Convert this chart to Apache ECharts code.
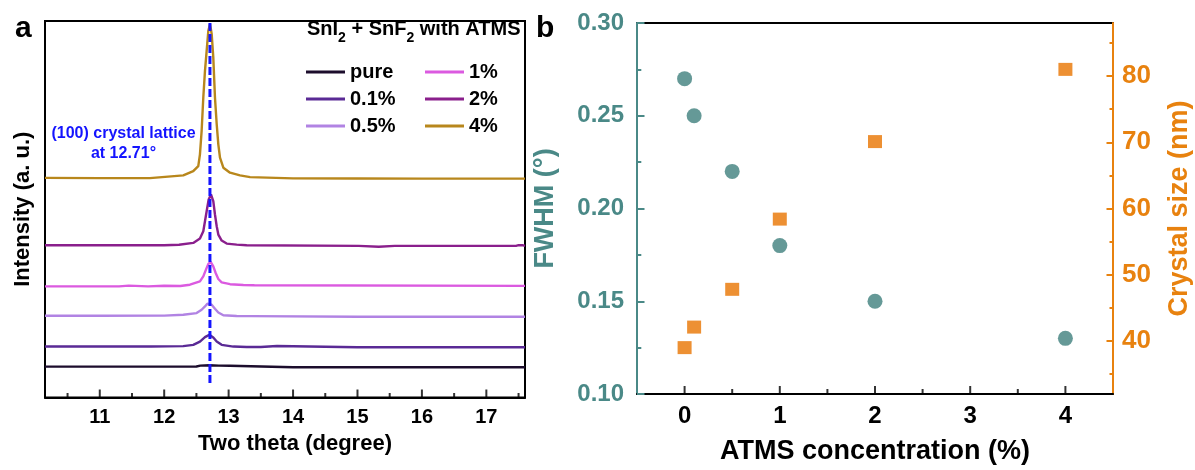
<!DOCTYPE html>
<html>
<head>
<meta charset="utf-8">
<script src="https://cdn.jsdelivr.net/npm/echarts@6/dist/echarts.min.js"></script>
<style>
  html, body { margin: 0; padding: 0; background: #fff; }
  #chart { width: 1195px; height: 470px; }
</style>
</head>
<body>
<div id="chart"></div>
<script>
// ---------- (a) XRD patterns: [two theta (deg), intensity (a. u., offset per sample)] ----------
const xrdPure = [
  [10.15, 30.8], [11.0, 30.8], [12.0, 30.8], [12.5, 30.9], [12.56, 31.8], [12.7, 32.1],
  [12.85, 31.8], [13.02, 31.7], [13.05, 30.3], [14.0, 30.2], [15.0, 30.2], [16.0, 30.1],
  [17.0, 30.1], [17.6, 30.1]
];
const xrd01 = [
  [10.15, 50.8], [11.0, 50.9], [11.8, 50.8], [12.296, 51.2], [12.451, 52.5], [12.555, 55.8],
  [12.633, 60.2], [12.70, 62.5], [12.762, 59.8], [12.815, 55.8], [12.892, 52.5], [13.073, 50.8],
  [13.28, 50.4], [13.5, 50.4], [13.52, 51.3], [13.75, 51.3], [13.78, 50.2], [15.0, 50.1],
  [16.0, 50.1], [17.6, 50.1]
];
const xrd05 = [
  [10.15, 81.6], [11.0, 81.6], [12.0, 81.7], [12.296, 82.5], [12.503, 84.2], [12.581, 87.5],
  [12.633, 90.8], [12.669, 93.5], [12.70, 94.5], [12.737, 92.5], [12.788, 88.5], [12.84, 84.8],
  [12.918, 82.0], [13.125, 81.3], [13.35, 81.2], [13.37, 80.6], [15.0, 80.6], [17.6, 80.6]
];
const xrd1 = [
  [10.15, 110.8], [11.3, 110.8], [11.33, 111.6], [11.45, 111.6], [11.47, 110.8], [11.75, 110.8],
  [11.77, 111.4], [12.0, 111.4], [12.25, 111.2], [12.399, 112.5], [12.555, 115.8], [12.607, 120.8],
  [12.648, 127.5], [12.685, 133.2], [12.721, 135.2], [12.762, 130.8], [12.799, 124.2], [12.84, 118.2],
  [12.892, 114.8], [13.022, 113.0], [13.229, 112.2], [13.4, 112.0], [13.42, 111.3], [17.6, 111.3]
];
const xrd2 = [
  [10.15, 151.8], [11.0, 151.8], [12.0, 151.8], [12.23, 152.3], [12.451, 154.2], [12.555, 158.5],
  [12.607, 165.8], [12.633, 175.8], [12.659, 185.8], [12.69, 197.5], [12.726, 202.5], [12.762, 195.8],
  [12.788, 182.5], [12.815, 170.8], [12.84, 162.5], [12.892, 156.5], [12.97, 153.5], [13.125, 152.5],
  [13.28, 151.8], [13.3, 151.2], [15.02, 151.2], [15.04, 150.4], [15.33, 150.4], [15.35, 151.2],
  [15.58, 151.2], [15.6, 151.8], [15.62, 151.2], [17.46, 151.2], [17.5, 151.9], [17.56, 151.9],
  [17.6, 151.2]
];
const xrd4 = [
  [10.15, 219.0], [11.0, 218.8], [11.778, 218.8], [12.296, 221.5], [12.451, 225.8], [12.529, 230.8],
  [12.555, 242.5], [12.581, 265.8], [12.607, 299.2], [12.633, 325.8], [12.659, 345.8], [12.685, 365.8],
  [12.711, 372.5], [12.737, 362.5], [12.762, 339.2], [12.788, 299.2], [12.815, 272.5], [12.84, 252.5],
  [12.866, 239.2], [12.918, 229.2], [13.022, 224.2], [13.177, 221.5], [13.333, 219.8], [14.0, 218.5],
  [15.0, 218.4], [16.0, 218.3], [17.6, 218.3]
];
const xrdNames = ['pure', '0.1%', '0.5%', '1%', '2%', '4%'];
const xrdData = [xrdPure, xrd01, xrd05, xrd1, xrd2, xrd4];
const peakPosition = 12.71;          // (100) reflection
const peakLineRange = [14.5, 375.5]; // vertical extent of the guide line
const twoThetaRange = [10.15, 17.6];
const intensityRange = [0, 375.5];
const twoThetaTicks = [11, 12, 13, 14, 15, 16, 17];
const twoThetaMinor = [10.5, 11.5, 12.5, 13.5, 14.5, 15.5, 16.5, 17.5];

// ---------- (b) FWHM and crystal size vs ATMS content ----------
const concentration = [0, 0.1, 0.5, 1, 2, 4];
const fwhm = [0.27, 0.25, 0.22, 0.18, 0.15, 0.13];
const crystalSize = [39.0, 42.1, 47.8, 58.4, 70.1, 81.0];
const concRange = [-0.5, 4.5];
const concTicks = [0, 1, 2, 3, 4];
const concMinor = [0.5, 1.5, 2.5, 3.5];
const fwhmRange = [0.10, 0.30];
const fwhmTicks = [0.10, 0.15, 0.20, 0.25, 0.30];
const fwhmMinor = [0.125, 0.175, 0.225, 0.275];
const sizeRange = [32, 88];
const sizeTicks = [40, 50, 60, 70, 80];
const sizeMinor = [35, 45, 55, 65, 75, 85];

// ---------- styling ----------
const FONT = '"Liberation Sans", Arial, Helvetica, sans-serif';
const curveColors = ['#1c0d2c', '#5a2a95', '#b183e3', '#db5ae0', '#8a1f8c', '#b8871c'];
const TEAL = '#3f7f7d';
const TEAL_TXT = '#4a8987';
const ORANGE = '#e87400';
const ORANGE_TXT = '#e8820f';
const BLUE = '#1414ff';

const chart = echarts.init(document.getElementById('chart'), null, { renderer: 'canvas' });

const boldText = (size, color) => ({
  fontFamily: FONT, fontWeight: 'bold', fontSize: size, color: color || '#000'
});

// axis line drawn by the grid frame / coloured axis; these axes only add tick marks
const tickOnly = (lineColor) => ({
  axisLine: { show: false, onZero: false, lineStyle: { color: lineColor } },
  axisLabel: { show: false },
  splitLine: { show: false }
});

// inward tick marks along a bottom axis, placed through the axis scales
const bottomTicks = (values, xIdx, yIdx, yBase, len) => ({
  type: 'scatter',
  xAxisIndex: xIdx, yAxisIndex: yIdx,
  data: values.map(v => [v, yBase]),
  symbol: 'rect',
  symbolSize: [2, len],
  symbolOffset: [0, -len / 2],
  itemStyle: { color: '#000' },
  silent: true,
  clip: false,
  z: 3
});

const legendBase = {
  orient: 'vertical',
  icon: 'rect',
  itemWidth: 39,
  itemHeight: 3,
  itemGap: 7,
  selectedMode: false,
  padding: 0,
  textStyle: Object.assign(boldText(20), { lineHeight: 20 })
};

const option = {
  animation: false,
  backgroundColor: '#fff',
  grid: [
    { left: 45, right: 670, top: 21, bottom: 72.5, show: true, borderColor: '#000', borderWidth: 2 },
    { left: 637, right: 82, top: 23, bottom: 72, show: true, borderColor: '#000', borderWidth: 2 }
  ],
  legend: [
    Object.assign({}, legendBase, { data: xrdNames.slice(0, 3), left: 306, top: 62 }),
    Object.assign({}, legendBase, { data: xrdNames.slice(3), left: 425, top: 62 })
  ],
  xAxis: [
    {
      gridIndex: 0, type: 'value', position: 'bottom',
      min: twoThetaRange[0], max: twoThetaRange[1],
      axisLine: { show: true, onZero: false, lineStyle: { color: '#000', width: 2 } },
      axisTick: { show: false },
      axisLabel: Object.assign(boldText(20), { customValues: twoThetaTicks, margin: 10 }),
      splitLine: { show: false },
      name: 'Two theta (degree)', nameLocation: 'middle', nameGap: 35,
      nameTextStyle: Object.assign(boldText(22), { padding: [0, 0, 0, 20] })
    },
    {
      gridIndex: 1, type: 'value', position: 'bottom',
      min: concRange[0], max: concRange[1],
      axisLine: { show: true, onZero: false, lineStyle: { color: '#000', width: 2 } },
      axisTick: { show: false },
      axisLabel: Object.assign(boldText(24), { customValues: concTicks, margin: 10 }),
      splitLine: { show: false },
      name: 'ATMS concentration (%)', nameLocation: 'middle', nameGap: 44,
      nameTextStyle: boldText(27)
    }
  ],
  yAxis: [
    Object.assign({
      gridIndex: 0, type: 'value', position: 'left',
      min: intensityRange[0], max: intensityRange[1],
      axisTick: { show: false },
      name: 'Intensity (a. u.)', nameLocation: 'middle', nameGap: 11, nameRotate: 90,
      nameTextStyle: boldText(22)
    }, tickOnly('#000')),
    {
      gridIndex: 1, type: 'value', position: 'left',
      min: fwhmRange[0], max: fwhmRange[1],
      axisLine: { show: true, onZero: false, lineStyle: { color: TEAL_TXT, width: 2 } },
      axisTick: { show: true, inside: true, length: 7.5, customValues: fwhmTicks, lineStyle: { color: TEAL_TXT, width: 2 } },
      axisLabel: Object.assign(boldText(24, TEAL_TXT), {
        customValues: fwhmTicks, margin: 13, formatter: v => v.toFixed(2)
      }),
      splitLine: { show: false },
      name: 'FWHM (°)', nameLocation: 'middle', nameGap: 78, nameRotate: 90,
      nameTextStyle: boldText(27, TEAL_TXT)
    },
    {
      gridIndex: 1, type: 'value', position: 'right',
      min: sizeRange[0], max: sizeRange[1],
      axisLine: { show: true, onZero: false, lineStyle: { color: ORANGE_TXT, width: 2 } },
      axisTick: { show: true, inside: true, length: 6.5, customValues: sizeTicks, lineStyle: { color: ORANGE_TXT, width: 2 } },
      axisLabel: Object.assign(boldText(26, ORANGE_TXT), { customValues: sizeTicks, margin: 9 }),
      splitLine: { show: false },
      name: 'Crystal size (nm)', nameLocation: 'middle', nameGap: 53, nameRotate: 90,
      nameTextStyle: boldText(27, ORANGE_TXT)
    },
    Object.assign({
      gridIndex: 1, type: 'value', position: 'left',
      min: fwhmRange[0], max: fwhmRange[1],
      axisTick: { show: true, inside: true, length: 4.3, customValues: fwhmMinor, lineStyle: { color: TEAL_TXT, width: 2 } }
    }, tickOnly(TEAL_TXT)),
    Object.assign({
      gridIndex: 1, type: 'value', position: 'right',
      min: sizeRange[0], max: sizeRange[1],
      axisTick: { show: true, inside: true, length: 3.5, customValues: sizeMinor, lineStyle: { color: ORANGE_TXT, width: 2 } }
    }, tickOnly(ORANGE_TXT))
  ],
  series: [
    ...xrdData.map((d, i) => ({
      name: xrdNames[i],
      type: 'line',
      xAxisIndex: 0, yAxisIndex: 0,
      data: d,
      showSymbol: false,
      symbol: 'none',
      color: curveColors[i],
      lineStyle: { color: curveColors[i], width: 2.4 },
      z: 2
    })),
    {
      name: 'peak-guide',
      type: 'line',
      xAxisIndex: 0, yAxisIndex: 0,
      data: [[peakPosition, peakLineRange[0]], [peakPosition, peakLineRange[1]]],
      symbol: 'none',
      lineStyle: { color: BLUE, width: 3, type: [8, 3] },
      z: 5
    },
    bottomTicks(twoThetaTicks, 0, 0, intensityRange[0], 8),
    bottomTicks(twoThetaMinor, 0, 0, intensityRange[0], 4.5),
    bottomTicks(concTicks, 1, 1, fwhmRange[0], 8),
    bottomTicks(concMinor, 1, 1, fwhmRange[0], 5),
    {
      name: 'FWHM',
      type: 'scatter',
      xAxisIndex: 1, yAxisIndex: 1,
      data: concentration.map((c, i) => [c, fwhm[i]]),
      symbol: 'circle',
      symbolSize: 15,
      itemStyle: { color: TEAL }
    },
    {
      name: 'Crystal size',
      type: 'scatter',
      xAxisIndex: 1, yAxisIndex: 2,
      data: concentration.map((c, i) => [c, crystalSize[i]]),
      symbol: 'rect',
      symbolSize: [14, 13],
      itemStyle: { color: ORANGE }
    }
  ],
  graphic: [
    { type: 'text', left: 15, top: 14, style: { text: 'a', font: 'bold 30px ' + FONT, fill: '#000' } },
    { type: 'text', left: 536, top: 14, style: { text: 'b', font: 'bold 30px ' + FONT, fill: '#000' } },
    {
      type: 'text', left: 307, top: 19,
      style: {
        text: '{m|SnI}{s|2}{m| + SnF}{s|2}{m| with ATMS}',
        rich: {
          m: { fontFamily: FONT, fontWeight: 'bold', fontSize: 20, lineHeight: 26, verticalAlign: 'middle', fill: '#000' },
          s: { fontFamily: FONT, fontWeight: 'bold', fontSize: 14, lineHeight: 33, verticalAlign: 'bottom', fill: '#000' }
        }
      }
    },
    {
      type: 'text', x: 123.5, y: 124,
      style: {
        text: '(100) crystal lattice\nat ' + peakPosition + '°',
        align: 'center', verticalAlign: 'top',
        font: 'bold 16px ' + FONT, lineHeight: 20, fill: BLUE
      }
    }
  ]
};

chart.setOption(option);
</script>
</body>
</html>
